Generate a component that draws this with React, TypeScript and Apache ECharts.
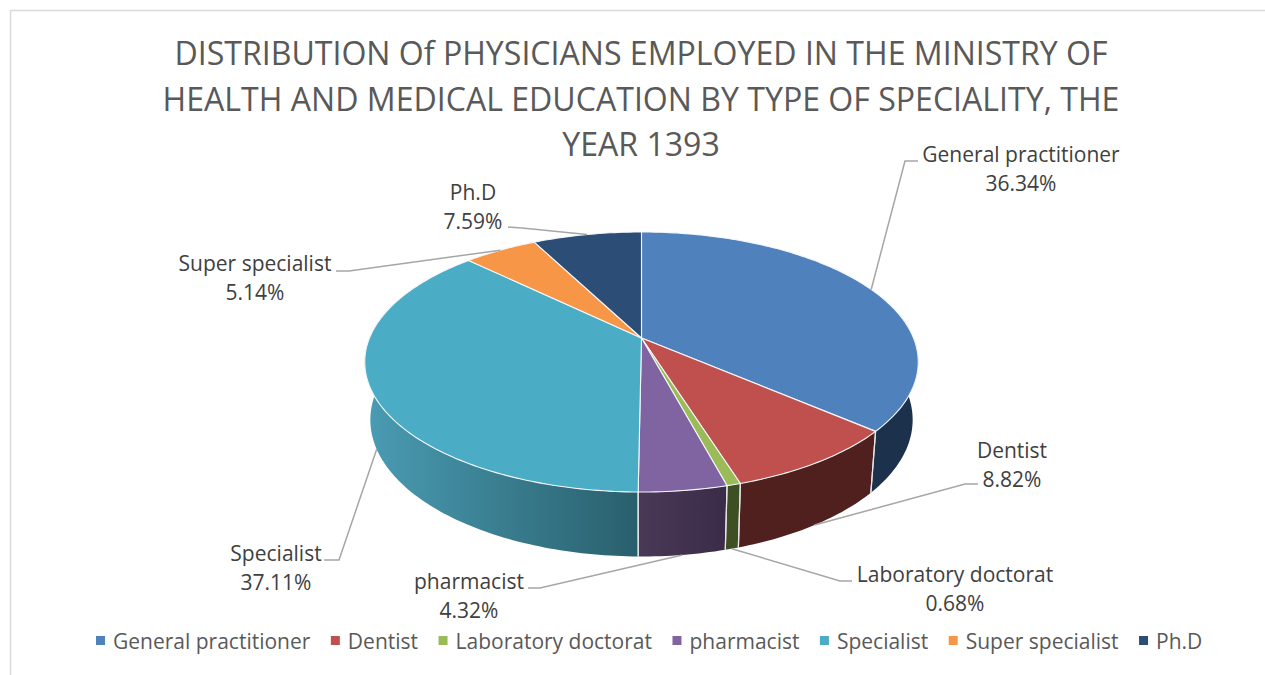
import React, { useEffect, useRef } from "react";
import * as echarts from "echarts";

const categories = ["General practitioner", "Dentist", "Laboratory doctorat", "pharmacist", "Specialist", "Super specialist", "Ph.D"];
const shares = [36.34, 8.82, 0.68, 4.32, 37.11, 5.14, 7.59];
const titleLines = [
  "DISTRIBUTION Of PHYSICIANS EMPLOYED IN THE MINISTRY OF",
  "HEALTH AND MEDICAL EDUCATION BY TYPE OF SPECIALITY, THE",
  "YEAR 1393",
];
const topColors = ["#4f81bd", "#c0504d", "#9bbb59", "#8064a2", "#4bacc6", "#f79646", "#2c4d75"];
const wallLeft = ["#1c324c", "#4f201e", "#3f4f24", "#4a3857", "#4a9cb4", "#f79646", "#2c4d75"];
const wallRight = ["#1c324c", "#4f201e", "#3f4f24", "#3a2c48", "#295f6c", "#f79646", "#2c4d75"];
const labelCentres = [[1021, 168], [1012, 464], [955, 588], [469, 595], [276, 567], [255, 277], [473, 206]];
const elbowEnds = [[918, 161], [978, 484], [852, 581], [528, 588], [324, 560], [336, 271], [508, 227]];
const elbowCorners = [[905, 161], [965, 484], [840, 581], [540, 588], [339, 560], [349, 271], [522, 228]];
const anchorRim = ["top", "bottom", "bottom", "bottom", "bottom", "top", "top"];

const FONT = '"Open Sans", sans-serif';
const CX = 641;
const B = 0.1846;
const TOP = { cx: CX + 0.5, cy: 338, a: 272, b: 125.6 };
const BOTTOM = { cx: CX + 0.5, cy: 394.6, a: 266.5, b: 132 };
const WALL_FROM = 70;
const WALL_TO = 290;

const total = shares.reduce((s, v) => s + v, 0);
const startOf = (i: number) => (shares.slice(0, i).reduce((s, v) => s + v, 0) / total) * 360;

function project(deg: number, rim: { cx: number; cy: number; a: number; b: number }) {
  const r = (deg * Math.PI) / 180;
  const u = Math.sin(r);
  const v = Math.cos(r);
  const s = 1 + B * v;
  return [rim.cx + (rim.a * u) / s, rim.cy - (rim.b * v) / s];
}
function arc(from: number, to: number, rim: { cx: number; cy: number; a: number; b: number }) {
  const n = Math.max(2, Math.ceil(Math.abs(to - from)));
  const pts: number[][] = [];
  for (let k = 0; k <= n; k++) pts.push(project(from + ((to - from) * k) / n, rim));
  return pts;
}

function renderSlice(params: any, api: any) {
  const i = params.seriesIndex;
  const value = api.value(0);
  const from = startOf(i);
  const to = from + (value / total) * 360;
  const children: any[] = [];

  const wFrom = Math.max(from, WALL_FROM);
  const wTo = Math.min(to, WALL_TO);
  if (wTo > wFrom) {
    children.push({
      type: "polygon",
      z2: 1,
      shape: { points: [...arc(wFrom, wTo, TOP), ...arc(wTo, wFrom, BOTTOM)] },
      style: {
        fill: new echarts.graphic.LinearGradient(0, 0, 1, 0, [
          { offset: 0, color: wallLeft[i] },
          { offset: 1, color: wallRight[i] },
        ]),
        stroke: null,
      },
    });
    [from, to].forEach((d) => {
      if (d > 100 && d < 260) {
        const p = project(d, TOP);
        const q = project(d, BOTTOM);
        children.push({
          type: "line",
          z2: 2,
          shape: { x1: p[0], y1: p[1], x2: q[0], y2: q[1] },
          style: { stroke: "#e6e6e6", lineWidth: 1.2 },
        });
      }
    });
  }

  children.push({
    type: "polygon",
    z2: 3,
    shape: { points: [[TOP.cx, TOP.cy], ...arc(from, to, TOP)] },
    style: { fill: topColors[i], stroke: "#f4f7fa", lineWidth: 1.1, lineJoin: "round" },
  });

  const mid = (from + to) / 2;
  const anchor = project(mid, anchorRim[i] === "top" ? TOP : BOTTOM);
  children.push({
    type: "polyline",
    z2: 4,
    shape: { points: [elbowEnds[i], elbowCorners[i], anchor] },
    style: { stroke: "#a6a6a6", lineWidth: 1.5, fill: null },
  });
  children.push({
    type: "text",
    z2: 5,
    style: {
      text: `${categories[i]}\n${value.toFixed(2)}%`,
      x: labelCentres[i][0],
      y: labelCentres[i][1],
      align: "center",
      verticalAlign: "middle",
      lineHeight: 29,
      fill: "#404040",
      font: `21px ${FONT}`,
    },
  });
  return { type: "group", children };
}

export default function App() {
  const ref = useRef<HTMLDivElement>(null);
  useEffect(() => {
    const chart = echarts.init(ref.current!, undefined, { renderer: "svg" });
    chart.setOption({
      animation: false,
      backgroundColor: "#ffffff",
      title: {
        text: titleLines.join("\n"),
        left: 636,
        top: 25,
        textAlign: "center",
        textStyle: { fontFamily: FONT, fontSize: 32.1, fontWeight: "normal", color: "#595959", lineHeight: 45.5 },
      },
      legend: {
        data: categories,
        left: 91,
        top: 625,
        icon: "rect",
        itemWidth: 9,
        itemHeight: 9,
        itemGap: 20.5,
        selectedMode: false,
        textStyle: { fontFamily: FONT, fontSize: 21, color: "#595959", padding: [0, 0, 0, 3] },
      },
      graphic: [
        { type: "line", shape: { x1: 10, y1: 10.5, x2: 1265, y2: 10.5 }, style: { stroke: "#d9d9d9", lineWidth: 1.5 } },
        { type: "line", shape: { x1: 10.5, y1: 10, x2: 10.5, y2: 675 }, style: { stroke: "#d9d9d9", lineWidth: 1.5 } },
      ],
      series: categories.map((name, i) => ({
        type: "custom",
        name,
        coordinateSystem: "none",
        silent: true,
        itemStyle: { color: topColors[i] },
        data: [[shares[i]]],
        renderItem: renderSlice,
      })),
    });
    return () => chart.dispose();
  }, []);
  return <div ref={ref} style={{ position: "absolute", left: 0, top: 0, width: 1265, height: 675 }} />;
}
